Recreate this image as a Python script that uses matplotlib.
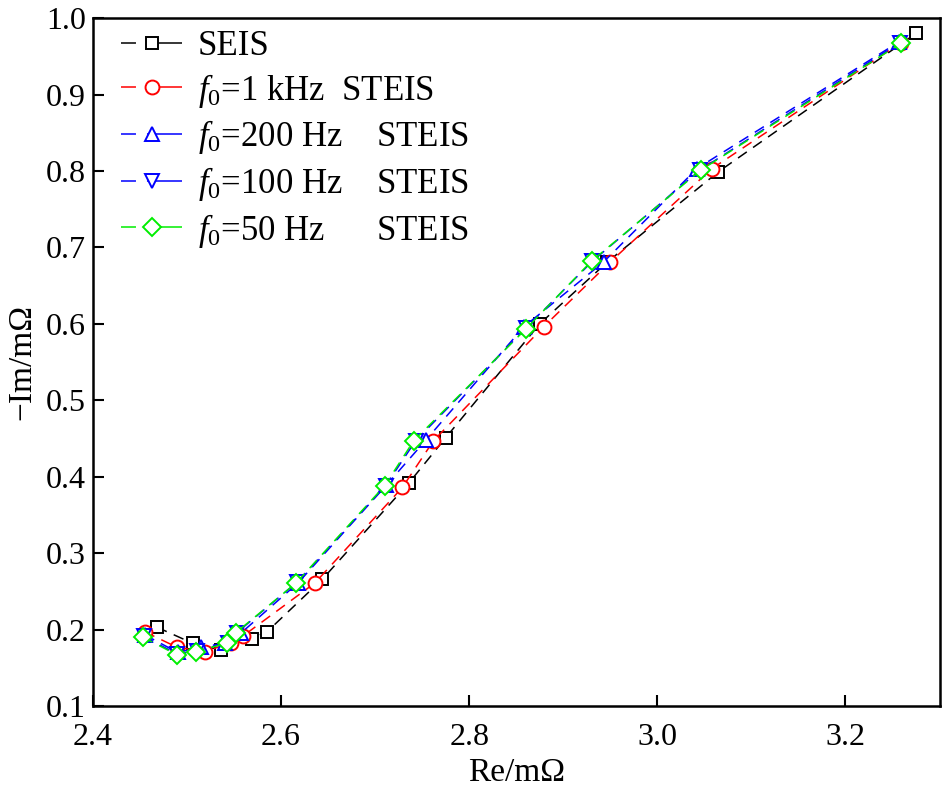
import matplotlib
matplotlib.use('Agg')
import matplotlib.pyplot as plt

plt.rcParams['font.family'] = ['Liberation Serif', 'DejaVu Serif']
plt.rcParams['mathtext.fontset'] = 'custom'
plt.rcParams['mathtext.rm'] = 'Liberation Serif'
plt.rcParams['mathtext.it'] = 'Liberation Serif:italic'

# SEIS
re_seis = [2.468, 2.506, 2.536, 2.569, 2.585, 2.644, 2.736, 2.775, 2.875, 2.947, 3.065, 3.275]
im_seis = [0.203, 0.182, 0.173, 0.188, 0.197, 0.266, 0.392, 0.451, 0.600, 0.681, 0.799, 0.980]
# f0 = 1 kHz
re_1k = [2.455, 2.489, 2.519, 2.547, 2.560, 2.636, 2.729, 2.762, 2.879, 2.950, 3.058, 3.259]
im_1k = [0.197, 0.177, 0.171, 0.183, 0.192, 0.261, 0.386, 0.447, 0.596, 0.681, 0.803, 0.968]
# f0 = 200 Hz
re_200 = [2.455, 2.490, 2.515, 2.540, 2.557, 2.618, 2.712, 2.754, 2.858, 2.943, 3.042, 3.257]
im_200 = [0.193, 0.170, 0.177, 0.182, 0.195, 0.261, 0.389, 0.448, 0.596, 0.681, 0.803, 0.969]
# f0 = 100 Hz
re_100 = [2.454, 2.489, 2.511, 2.543, 2.553, 2.617, 2.711, 2.743, 2.860, 2.931, 3.045, 3.258]
im_100 = [0.191, 0.168, 0.172, 0.183, 0.196, 0.262, 0.388, 0.447, 0.594, 0.682, 0.801, 0.968]
# f0 = 50 Hz
re_50 = [2.453, 2.489, 2.509, 2.542, 2.552, 2.616, 2.710, 2.741, 2.860, 2.930, 3.046, 3.259]
im_50 = [0.190, 0.167, 0.171, 0.182, 0.196, 0.261, 0.388, 0.447, 0.593, 0.682, 0.801, 0.967]

labels = ['SEIS',
          r'$f_0$=1 kHz  STEIS',
          r'$f_0$=200 Hz    STEIS',
          r'$f_0$=100 Hz    STEIS',
          r'$f_0$=50 Hz      STEIS']

fig = plt.figure(figsize=(9.49, 7.87), dpi=100)
ax = fig.add_axes([0.098, 0.103, 0.892, 0.874])

series = [(re_seis, im_seis, 'k', 's', 9),
          (re_1k, im_1k, 'red', 'o', 10),
          (re_200, im_200, 'blue', '^', 10),
          (re_100, im_100, 'blue', 'v', 10),
          (re_50, im_50, '#00ee00', 'D', 9)]

for (x, y, c, m, ms), lab in zip(series, labels):
    ax.plot(x, y, color=c, marker=m, markersize=ms, markerfacecolor='white',
            markeredgecolor=c, markeredgewidth=1.4, linewidth=1.1,
            dashes=(7, 5), label=lab)

ax.set_xlim(2.4, 3.3)
ax.set_ylim(0.1, 1.0)
ax.set_xticks([2.4, 2.6, 2.8, 3.0, 3.2])
ax.set_xticklabels(['2.4', '2.6', '2.8', '3.0', '3.2'])
ax.set_yticks([0.1, 0.2, 0.3, 0.4, 0.5, 0.6, 0.7, 0.8, 0.9, 1.0])
ax.tick_params(direction='in', length=8, width=1.5, labelsize=23)
ax.tick_params(axis='x', pad=12)
ax.tick_params(axis='y', pad=5)
for sp in ax.spines.values():
    sp.set_linewidth(1.8)

ax.set_xlabel('Re/mΩ', fontsize=24, labelpad=4)
ax.set_ylabel('\u2212Im/mΩ', fontsize=24, labelpad=6)

leg = ax.legend(loc='upper left', frameon=False, fontsize=25, handlelength=1.75,
                handletextpad=0.45, labelspacing=0.25, borderaxespad=0.0,
                borderpad=0.3, bbox_to_anchor=(0.021, 0.998))
for ln in leg.get_lines():
    ln.set_dashes((9.8, 7.2, 24, 10))

fig.savefig('out.png', dpi=100)
